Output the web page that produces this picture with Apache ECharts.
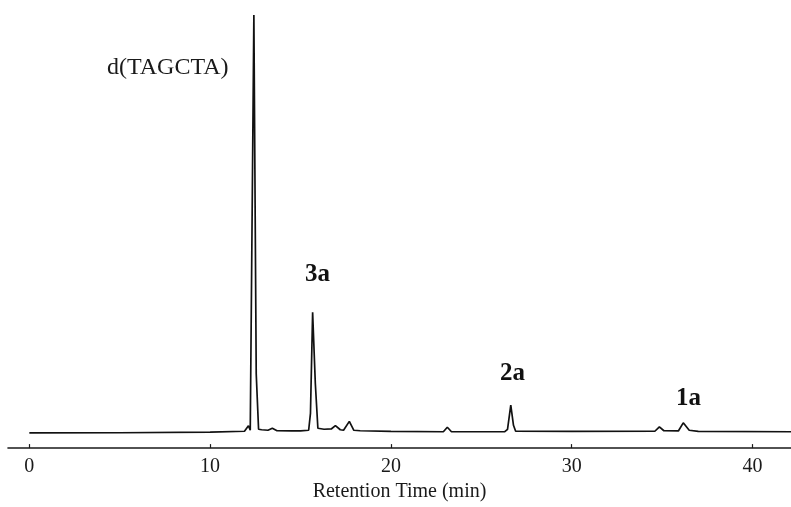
<!DOCTYPE html>
<html lang="en">
<head>
    <meta charset="UTF-8">
    <title>Chromatogram</title>
    <script src="https://cdn.jsdelivr.net/npm/echarts@6/dist/echarts.min.js"></script>
    <style>
        html, body { margin: 0; padding: 0; background: #fff; }
        #main { width: 791px; height: 507px; }
    </style>
</head>
<body>
<div id="main"></div>
<script>
    // retention time (min) and detector signal
    var times = [0, 5, 10, 11.9, 12.12, 12.22, 12.32, 12.42, 12.55, 12.68, 12.85, 13.2, 13.44, 13.7, 14.5, 15.0,
        15.45, 15.55, 15.67, 15.82, 15.96, 16.3, 16.7, 16.93, 17.2, 17.38, 17.7, 17.95, 18.3, 20, 22.9,
        23.12, 23.35, 26.3, 26.45, 26.63, 26.78, 26.9, 30, 34.6, 34.85, 35.1, 35.9, 36.17, 36.5, 37, 42.13];
    var signal = [0.3, 0.5, 1.2, 2, 7.5, 3, 4, 422, 60, 4, 3.5, 3, 5, 2.5, 2.3, 2.3,
        3, 20, 122, 50, 5, 4, 4.3, 7.7, 3.5, 3, 12, 3, 2.5, 1.8, 1.5,
        6, 1.5, 1.5, 4, 28.3, 8, 2, 1.8, 2, 6.5, 2.5, 2.3, 10.5, 3, 1.8, 1.5];
    var tickValues = [0, 10, 20, 30, 40];

    var serif = 'Liberation Serif';
    var trace = times.map(function (t, i) { return [t, signal[i]]; });

    var myChart = echarts.init(document.getElementById('main'));
    var option = {
        backgroundColor: '#fff',
        animation: false,
        grid: { left: 8, right: 0, top: 12, bottom: 55 },
        xAxis: {
            type: 'value',
            min: -1.18,
            max: 42.13,
            name: 'Retention Time (min)',
            nameLocation: 'middle',
            nameGap: 33,
            nameTextStyle: { fontFamily: serif, fontSize: 20, color: '#1a1a1a' },
            axisLine: { onZero: false, lineStyle: { color: '#1a1a1a', width: 1.6 } },
            axisTick: { show: true, inside: true, length: 4, customValues: tickValues,
                lineStyle: { color: '#1a1a1a', width: 1.2 } },
            axisLabel: { customValues: tickValues, margin: 9,
                fontFamily: serif, fontSize: 20, color: '#1a1a1a' },
            splitLine: { show: false }
        },
        yAxis: {
            type: 'value',
            min: -15,
            max: 425,
            show: false
        },
        series: [{
            type: 'line',
            data: trace,
            showSymbol: false,
            lineStyle: { color: '#111', width: 1.7 }
        }],
        graphic: [
            { type: 'text', left: 107, top: 56,
                style: { text: 'd(TAGCTA)', font: '24px "Liberation Serif"', fill: '#1a1a1a' } },
            { type: 'text', left: 305, top: 262,
                style: { text: '3a', font: 'bold 25px "Liberation Serif"', fill: '#111' } },
            { type: 'text', left: 500, top: 361,
                style: { text: '2a', font: 'bold 25px "Liberation Serif"', fill: '#111' } },
            { type: 'text', left: 676, top: 386,
                style: { text: '1a', font: 'bold 25px "Liberation Serif"', fill: '#111' } }
        ]
    };
    myChart.setOption(option);
</script>
</body>
</html>
